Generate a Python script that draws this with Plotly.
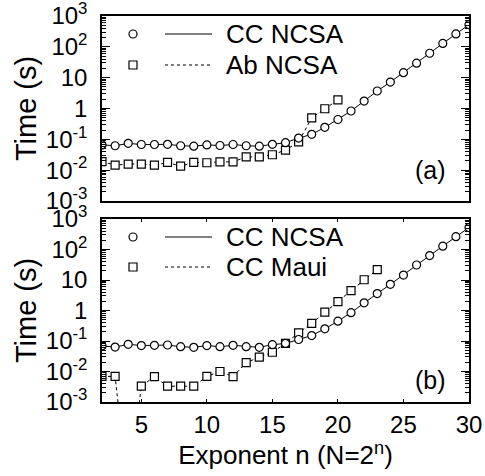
import plotly.graph_objects as go

n_ncsa = list(range(2, 31))
cc_ncsa_a = [0.066, 0.062, 0.074, 0.068, 0.068, 0.069, 0.062, 0.060, 0.066, 0.063, 0.068, 0.062, 0.060,
             0.069, 0.078, 0.110, 0.145, 0.245, 0.44, 0.83, 1.74, 3.7, 7.2, 14.5, 29.5, 62, 129, 263, 525]
n_ab = list(range(2, 21))
ab_ncsa = [0.019, 0.0145, 0.0158, 0.0158, 0.0145, 0.0178, 0.0135, 0.0178, 0.0174, 0.0186, 0.0186,
           0.0269, 0.0269, 0.0316, 0.0447, 0.083, 0.50, 0.98, 1.9]

cc_ncsa_b = [0.069, 0.063, 0.078, 0.071, 0.072, 0.074, 0.065, 0.062, 0.071, 0.065, 0.072, 0.065, 0.062,
             0.076, 0.083, 0.112, 0.151, 0.251, 0.447, 0.85, 1.78, 3.6, 7.2, 14.5, 31, 63, 129, 263, 525]
n_maui = list(range(2, 24))
cc_maui = [0.0069, 0.0069, 1e-6, 0.0033, 0.0068, 0.0033, 0.0033, 0.0033, 0.0069, 0.010, 0.0068,
           0.0195, 0.0295, 0.0427, 0.083, 0.186, 0.38, 0.89, 1.95, 4.5, 10.2, 21.9]

y_tickvals = [1e-3, 1e-2, 1e-1, 1, 10, 100, 1000]
y_ticktext = ["10<sup>-3</sup>", "10<sup>-2</sup>", "10<sup>-1</sup>", "1", "10", "10<sup>2</sup>", "10<sup>3</sup>"]
y_minorvals = [m * 10.0 ** e for e in range(-3, 3) for m in range(2, 10)]
x_tickvals = [5, 10, 15, 20, 25, 30]

FONT = "Liberation Sans, Arial, sans-serif"
fig = go.Figure()

def circ(x, y, name, xa, ya):
    return go.Scatter(x=x, y=y, mode="lines+markers", name=name, xaxis=xa, yaxis=ya,
                      line=dict(color="black", width=1, dash="solid"),
                      marker=dict(symbol="circle", size=8, color="white",
                                  line=dict(color="black", width=1.2)),
                      showlegend=False)

def sq(x, y, name, xa, ya):
    return go.Scatter(x=x, y=y, mode="lines+markers", name=name, xaxis=xa, yaxis=ya,
                      line=dict(color="black", width=1, dash="dot"),
                      marker=dict(symbol="square", size=8, color="white",
                                  line=dict(color="black", width=1.2)),
                      showlegend=False)

fig.add_trace(sq(n_ab, ab_ncsa, "Ab NCSA", "x", "y"))
fig.add_trace(circ(n_ncsa, cc_ncsa_a, "CC NCSA", "x", "y"))
fig.add_trace(sq(n_maui, cc_maui, "CC Maui", "x2", "y2"))
fig.add_trace(circ(n_ncsa, cc_ncsa_b, "CC NCSA", "x2", "y2"))

W, H = 485, 476
L, R, T, B = 102, 469, 16, 402
pw, ph = R - L, B - T
top_dom = [(B - 201) / ph, 1]
bot_dom = [0, (B - 219) / ph]

yaxis_common = dict(type="log", range=[-3, 3], tickmode="array", tickvals=y_tickvals, ticktext=y_ticktext,
                    ticks="inside", ticklen=8, tickwidth=1, tickcolor="black",
                    showline=True, linecolor="black", linewidth=1.5, mirror="allticks",
                    showgrid=False, zeroline=False, automargin=False, ticklabeloverflow="allow",
                    minor=dict(ticks="inside", ticklen=4, tickwidth=1, tickcolor="black",
                               tickmode="array", tickvals=y_minorvals, showgrid=False),
                    tickfont=dict(size=24, color="black", family=FONT),
                    ticklabelstandoff=8,
                    title=dict(text="Time (s)", font=dict(size=29, color="black", family=FONT), standoff=1))

fig.update_layout(
    width=W, height=H,
    margin=dict(l=L, r=W - R, t=T, b=H - B),
    paper_bgcolor="white", plot_bgcolor="white",
    font=dict(family=FONT, color="black"),
    xaxis=dict(domain=[0, 1], range=[2, 30], anchor="y", showticklabels=False, ticks="",
               showline=True, linecolor="black", linewidth=1.5, mirror=True, showgrid=False,
               zeroline=False, automargin=False),
    yaxis=dict(domain=top_dom, anchor="x", **yaxis_common),
    xaxis2=dict(domain=[0, 1], range=[2, 30], anchor="y2", tickmode="array", tickvals=x_tickvals,
                ticks="inside", ticklen=3, tickwidth=1, tickcolor="black",
                showline=True, linecolor="black", linewidth=1.5, mirror="allticks",
                showgrid=False, zeroline=False, automargin=False, ticklabeloverflow="allow",
                tickfont=dict(size=24, color="black", family=FONT),
                title=dict(text="Exponent n (N=2<sup>n</sup>)", font=dict(size=26, color="black", family=FONT), standoff=4)),
    yaxis2=dict(domain=bot_dom, anchor="x2", **yaxis_common),
)

def px2paper(px, py):
    return (px - L) / pw, (B - py) / ph

shapes = []
annotations = []

def legend_row(py, symbol, dash, text):
    xm, ym = px2paper(133, py)
    shapes.append(dict(type="circle" if symbol == "circle" else "rect", xref="paper", yref="paper",
                       xsizemode="pixel", ysizemode="pixel",
                       xanchor=xm, yanchor=ym, x0=-4, x1=4, y0=-4, y1=4,
                       line=dict(color="black", width=1.2), fillcolor="white"))
    x0, yl = px2paper(165, py)
    x1, _ = px2paper(212, py)
    shapes.append(dict(type="line", xref="paper", yref="paper", x0=x0, x1=x1, y0=yl, y1=yl,
                       line=dict(color="black", width=1, dash=dash)))
    xt, yt = px2paper(224, py)
    annotations.append(dict(xref="paper", yref="paper", x=xt, y=yt, text=text, showarrow=False,
                            xanchor="left", yanchor="middle",
                            font=dict(size=26, color="black", family=FONT)))

legend_row(34, "circle", "solid", "CC NCSA")
legend_row(65, "square", "dot", "Ab NCSA")
legend_row(237, "circle", "solid", "CC NCSA")
legend_row(267, "square", "dot", "CC Maui")

for lab, py in [("(a)", 170), ("(b)", 380)]:
    xa, ya = px2paper(448, py)
    annotations.append(dict(xref="paper", yref="paper", x=xa, y=ya, text=lab, showarrow=False,
                            xanchor="right", yanchor="middle",
                            font=dict(size=25, color="black", family=FONT)))

fig.update_layout(shapes=shapes, annotations=annotations)
fig.write_html("out.html", config={"displayModeBar": False},
               post_script="document.body.style.margin='0';document.body.style.overflow='hidden';")
